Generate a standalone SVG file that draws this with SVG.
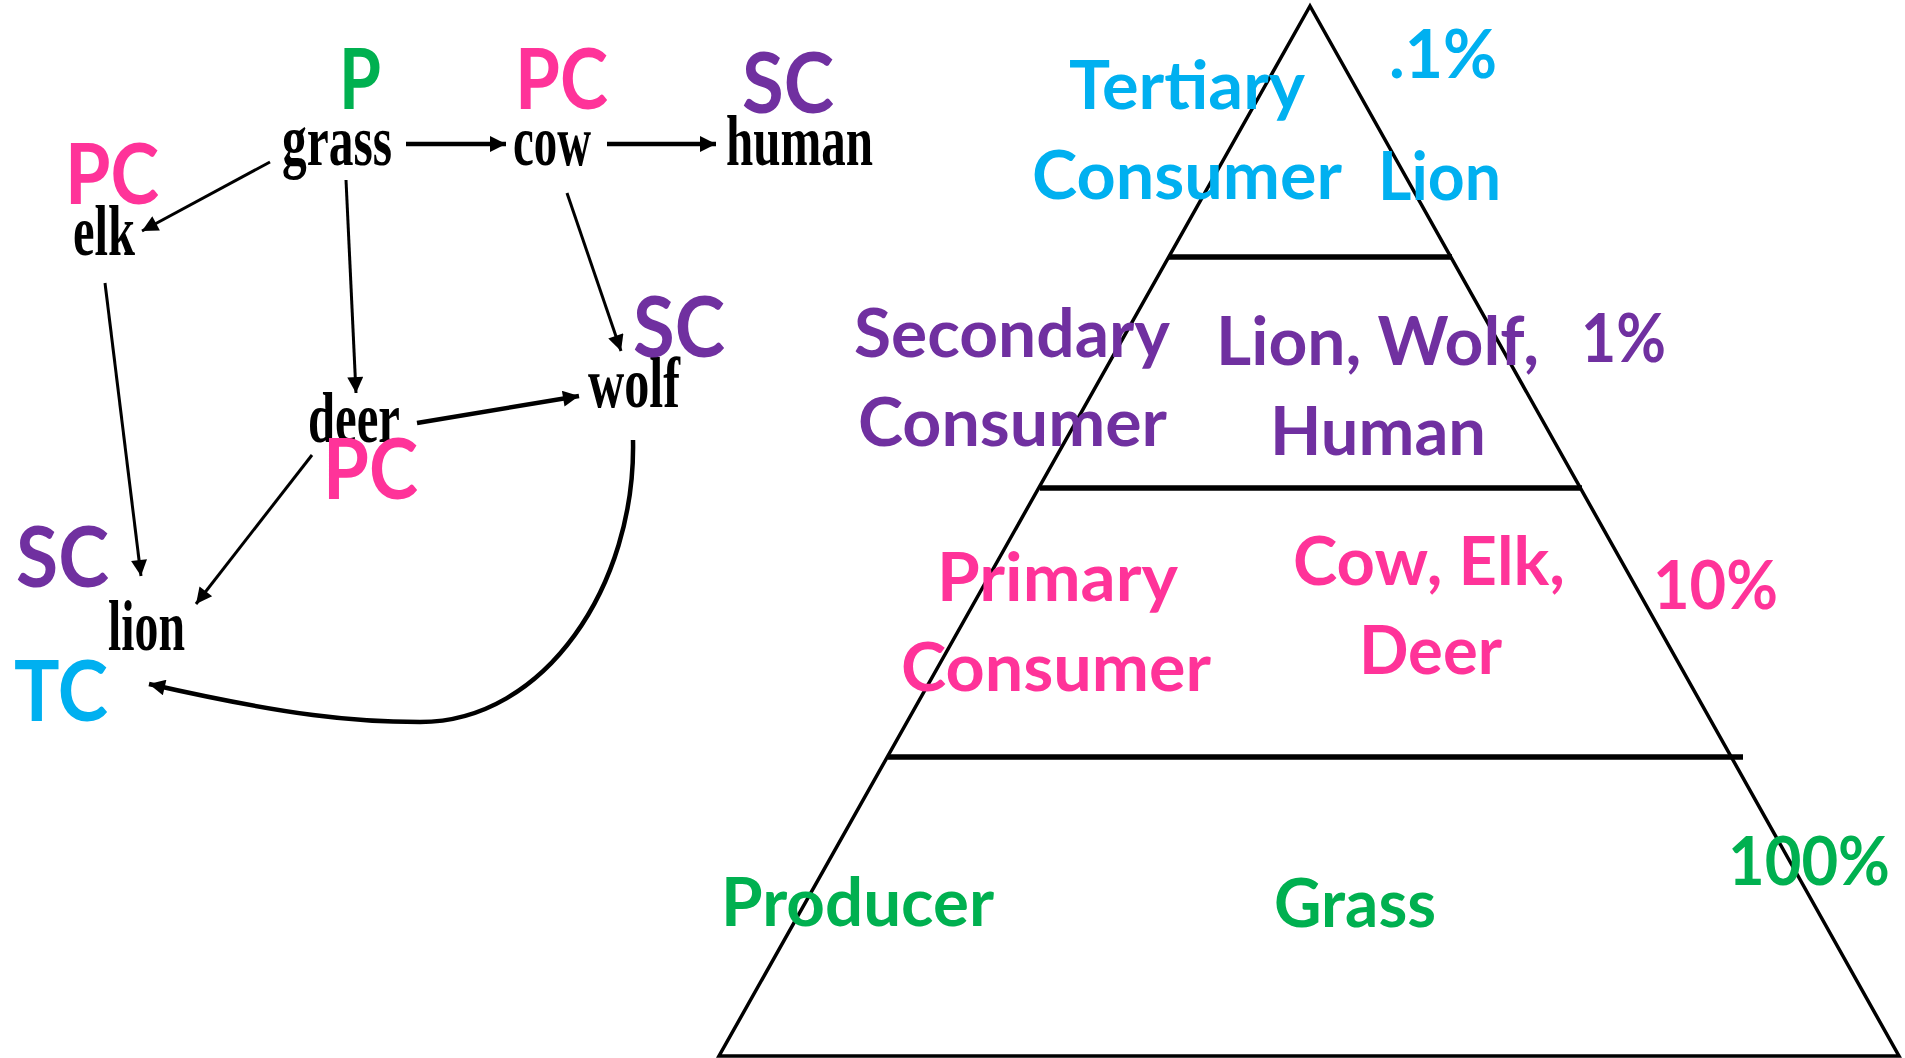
<svg xmlns="http://www.w3.org/2000/svg" width="1905" height="1058" viewBox="0 0 1905 1058">
<style>
.w{font-family:"Liberation Serif","Times New Roman",serif;font-weight:bold;font-size:72px;fill:#000}
.t{font-family:Lato,"Open Sans",sans-serif;font-weight:bold;font-size:66px}
.l{font-family:Lato,"Open Sans",sans-serif;font-weight:bold;font-size:84px}
.g{fill:#00B050}.p{fill:#FF3399}.v{fill:#7030A0}.c{fill:#00B0F0}
.a{fill:none;stroke:#000;stroke-width:3;marker-end:url(#ah)}
.a2{fill:none;stroke:#000;stroke-width:4.5;marker-end:url(#ah)}
.tri{fill:none;stroke:#000;stroke-width:3.5}
.div{stroke:#000;stroke-width:5.5}
</style>
<defs>
<marker id="ah" markerUnits="userSpaceOnUse" viewBox="0 0 10 10" refX="10" refY="5" markerWidth="20" markerHeight="16" orient="auto">
<path d="M0,0 L10,5 L0,10 z" fill="#000"/>
</marker>
</defs>
<rect width="1905" height="1058" fill="#fff"/>

<g id="connectors">
<line class="a2" x1="406" y1="144" x2="506" y2="144"/>
<line class="a2" x1="607" y1="144" x2="716" y2="144"/>
<line class="a" x1="270" y1="162" x2="142" y2="231"/>
<line class="a" x1="346" y1="180" x2="356" y2="393"/>
<line class="a" x1="567" y1="193" x2="621" y2="351"/>
<line class="a" x1="105" y1="283" x2="141" y2="576"/>
<line class="a2" x1="417" y1="423" x2="579" y2="396"/>
<line class="a" x1="312" y1="455" x2="196" y2="604"/>
<path class="a2" d="M633,440 C636,585 545,722 420,722 C355,722 290,716 149,684"/>
</g>

<g id="node-grass"><text class="w" x="282" y="165" textLength="110" lengthAdjust="spacingAndGlyphs">grass</text><text class="l g" x="339" y="109" textLength="42" lengthAdjust="spacingAndGlyphs">P</text></g>
<g id="node-cow"><text class="w" x="513" y="165" textLength="78" lengthAdjust="spacingAndGlyphs">cow</text><text class="l p" x="515" y="109" textLength="93" lengthAdjust="spacingAndGlyphs">PC</text></g>
<g id="node-human"><text class="w" x="726" y="165" textLength="147" lengthAdjust="spacingAndGlyphs">human</text><text class="l v" x="742" y="113" textLength="92" lengthAdjust="spacingAndGlyphs">SC</text></g>
<g id="node-elk"><text class="w" x="73" y="255" textLength="62" lengthAdjust="spacingAndGlyphs">elk</text><text class="l p" x="65" y="204" textLength="94" lengthAdjust="spacingAndGlyphs">PC</text></g>
<g id="node-wolf"><text class="w" x="588" y="407" textLength="92" lengthAdjust="spacingAndGlyphs">wolf</text><text class="l v" x="633" y="357" textLength="92" lengthAdjust="spacingAndGlyphs">SC</text></g>
<g id="node-deer"><text class="w" x="308" y="442" textLength="92" lengthAdjust="spacingAndGlyphs">deer</text><text class="l p" x="323" y="499" textLength="95" lengthAdjust="spacingAndGlyphs">PC</text></g>
<g id="node-lion"><text class="w" x="108" y="650" textLength="77" lengthAdjust="spacingAndGlyphs">lion</text><text class="l v" x="16" y="587" textLength="93" lengthAdjust="spacingAndGlyphs">SC</text><text class="l c" x="14" y="721" textLength="94" lengthAdjust="spacingAndGlyphs">TC</text></g>

<g id="pyramid">
<path class="tri" d="M1310,6 L719,1056 L1899,1056 Z"/>
<line class="div" x1="1169" y1="257" x2="1452" y2="257"/>
<line class="div" x1="1040" y1="488" x2="1582" y2="488"/>
<line class="div" x1="888" y1="757" x2="1743" y2="757"/>
</g>

<g id="tier-tertiary">
<text class="t c" x="1069" y="109" textLength="236" lengthAdjust="spacingAndGlyphs">Tertiary</text>
<text class="t c" x="1032" y="199" textLength="310" lengthAdjust="spacingAndGlyphs">Consumer</text>
<text class="t c" x="1378" y="200" textLength="123" lengthAdjust="spacingAndGlyphs">Lion</text>
<text class="t c" x="1389" y="78" textLength="108" lengthAdjust="spacingAndGlyphs">.1%</text>
</g>
<g id="tier-secondary">
<text class="t v" x="854" y="357" textLength="316" lengthAdjust="spacingAndGlyphs">Secondary</text>
<text class="t v" x="858" y="446" textLength="309" lengthAdjust="spacingAndGlyphs">Consumer</text>
<text class="t v" x="1216" y="365" textLength="323" lengthAdjust="spacingAndGlyphs">Lion, Wolf,</text>
<text class="t v" x="1270" y="455" textLength="216" lengthAdjust="spacingAndGlyphs">Human</text>
<text class="t v" x="1581" y="362" textLength="85" lengthAdjust="spacingAndGlyphs">1%</text>
</g>
<g id="tier-primary">
<text class="t p" x="937" y="601" textLength="241" lengthAdjust="spacingAndGlyphs">Primary</text>
<text class="t p" x="901" y="691" textLength="310" lengthAdjust="spacingAndGlyphs">Consumer</text>
<text class="t p" x="1293" y="585" textLength="272" lengthAdjust="spacingAndGlyphs">Cow, Elk,</text>
<text class="t p" x="1359" y="674" textLength="143" lengthAdjust="spacingAndGlyphs">Deer</text>
<text class="t p" x="1653" y="609" textLength="125" lengthAdjust="spacingAndGlyphs">10%</text>
</g>
<g id="tier-producer">
<text class="t g" x="721" y="926" textLength="273" lengthAdjust="spacingAndGlyphs">Producer</text>
<text class="t g" x="1274" y="927" textLength="162" lengthAdjust="spacingAndGlyphs">Grass</text>
<text class="t g" x="1728" y="885" textLength="162" lengthAdjust="spacingAndGlyphs">100%</text>
</g>
</svg>
